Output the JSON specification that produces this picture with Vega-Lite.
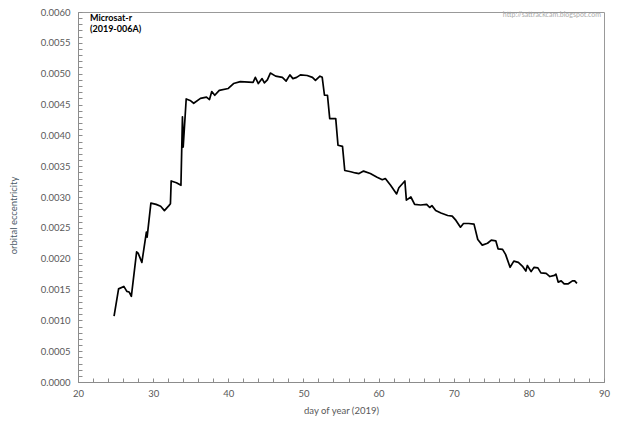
{
  "$schema": "https://vega.github.io/schema/vega-lite/v6.json",
  "autosize": {"type": "none"},
  "width": 526,
  "height": 370,
  "padding": {"left": 78, "top": 12, "right": 36, "bottom": 43},
  "data": {
    "values": [
      {"day": 24.8, "ecc": 0.00107},
      {"day": 25.4, "ecc": 0.00151},
      {"day": 26.1, "ecc": 0.00155},
      {"day": 26.5, "ecc": 0.00147},
      {"day": 26.8, "ecc": 0.00146},
      {"day": 27.1, "ecc": 0.00139},
      {"day": 27.8, "ecc": 0.00211},
      {"day": 28.0, "ecc": 0.00209},
      {"day": 28.5, "ecc": 0.00194},
      {"day": 29.1, "ecc": 0.00243},
      {"day": 29.2, "ecc": 0.00235},
      {"day": 29.7, "ecc": 0.00290},
      {"day": 30.4, "ecc": 0.00288},
      {"day": 31.0, "ecc": 0.00285},
      {"day": 31.5, "ecc": 0.00278},
      {"day": 32.1, "ecc": 0.00286},
      {"day": 32.3, "ecc": 0.00289},
      {"day": 32.4, "ecc": 0.00326},
      {"day": 33.1, "ecc": 0.00323},
      {"day": 33.7, "ecc": 0.00319},
      {"day": 33.9, "ecc": 0.00430},
      {"day": 34.0, "ecc": 0.00381},
      {"day": 34.4, "ecc": 0.00459},
      {"day": 35.0, "ecc": 0.00456},
      {"day": 35.4, "ecc": 0.00452},
      {"day": 36.3, "ecc": 0.00460},
      {"day": 37.1, "ecc": 0.00462},
      {"day": 37.5, "ecc": 0.00458},
      {"day": 37.8, "ecc": 0.00471},
      {"day": 38.2, "ecc": 0.00465},
      {"day": 38.8, "ecc": 0.00473},
      {"day": 40.0, "ecc": 0.00476},
      {"day": 40.7, "ecc": 0.00484},
      {"day": 41.6, "ecc": 0.00487},
      {"day": 43.3, "ecc": 0.00486},
      {"day": 43.6, "ecc": 0.00494},
      {"day": 44.0, "ecc": 0.00484},
      {"day": 44.5, "ecc": 0.00492},
      {"day": 44.8, "ecc": 0.00485},
      {"day": 45.2, "ecc": 0.00490},
      {"day": 45.6, "ecc": 0.00501},
      {"day": 46.3, "ecc": 0.00496},
      {"day": 47.2, "ecc": 0.00494},
      {"day": 47.7, "ecc": 0.00488},
      {"day": 48.2, "ecc": 0.00498},
      {"day": 48.6, "ecc": 0.00492},
      {"day": 49.1, "ecc": 0.00494},
      {"day": 49.6, "ecc": 0.00498},
      {"day": 50.5, "ecc": 0.00497},
      {"day": 51.2, "ecc": 0.00494},
      {"day": 51.6, "ecc": 0.00489},
      {"day": 52.2, "ecc": 0.00496},
      {"day": 52.5, "ecc": 0.00494},
      {"day": 52.8, "ecc": 0.00465},
      {"day": 53.2, "ecc": 0.00465},
      {"day": 53.5, "ecc": 0.00427},
      {"day": 54.3, "ecc": 0.00427},
      {"day": 54.6, "ecc": 0.00384},
      {"day": 55.2, "ecc": 0.00382},
      {"day": 55.5, "ecc": 0.00343},
      {"day": 56.3, "ecc": 0.00341},
      {"day": 56.9, "ecc": 0.00339},
      {"day": 57.4, "ecc": 0.00338},
      {"day": 58.0, "ecc": 0.00342},
      {"day": 58.9, "ecc": 0.00338},
      {"day": 59.8, "ecc": 0.00332},
      {"day": 60.5, "ecc": 0.00328},
      {"day": 60.9, "ecc": 0.00330},
      {"day": 61.6, "ecc": 0.00319},
      {"day": 62.4, "ecc": 0.00305},
      {"day": 62.7, "ecc": 0.00315},
      {"day": 63.5, "ecc": 0.00326},
      {"day": 63.7, "ecc": 0.00295},
      {"day": 64.3, "ecc": 0.00300},
      {"day": 64.8, "ecc": 0.00288},
      {"day": 65.6, "ecc": 0.00287},
      {"day": 66.4, "ecc": 0.00288},
      {"day": 66.8, "ecc": 0.00283},
      {"day": 67.1, "ecc": 0.00286},
      {"day": 67.6, "ecc": 0.00278},
      {"day": 68.3, "ecc": 0.00274},
      {"day": 69.2, "ecc": 0.00270},
      {"day": 69.8, "ecc": 0.00269},
      {"day": 70.3, "ecc": 0.00262},
      {"day": 70.9, "ecc": 0.00251},
      {"day": 71.3, "ecc": 0.00257},
      {"day": 72.0, "ecc": 0.00257},
      {"day": 72.7, "ecc": 0.00256},
      {"day": 73.2, "ecc": 0.00231},
      {"day": 73.8, "ecc": 0.00222},
      {"day": 74.5, "ecc": 0.00225},
      {"day": 75.0, "ecc": 0.00230},
      {"day": 75.6, "ecc": 0.00229},
      {"day": 75.9, "ecc": 0.00216},
      {"day": 76.5, "ecc": 0.00215},
      {"day": 76.9, "ecc": 0.00207},
      {"day": 77.5, "ecc": 0.00186},
      {"day": 78.0, "ecc": 0.00196},
      {"day": 78.6, "ecc": 0.00194},
      {"day": 79.2, "ecc": 0.00187},
      {"day": 79.6, "ecc": 0.00180},
      {"day": 79.8, "ecc": 0.00189},
      {"day": 80.3, "ecc": 0.00179},
      {"day": 80.7, "ecc": 0.00186},
      {"day": 81.2, "ecc": 0.00185},
      {"day": 81.6, "ecc": 0.00177},
      {"day": 82.3, "ecc": 0.00176},
      {"day": 82.8, "ecc": 0.00171},
      {"day": 83.4, "ecc": 0.00173},
      {"day": 83.6, "ecc": 0.00175},
      {"day": 83.9, "ecc": 0.00162},
      {"day": 84.3, "ecc": 0.00164},
      {"day": 84.7, "ecc": 0.00159},
      {"day": 85.2, "ecc": 0.00159},
      {"day": 85.8, "ecc": 0.00164},
      {"day": 86.1, "ecc": 0.00164},
      {"day": 86.4, "ecc": 0.00160}
    ]
  },
  "layer": [
    {
      "mark": {"type": "line", "color": "black", "strokeWidth": 1.7, "strokeJoin": "round"},
      "encoding": {
        "x": {
          "field": "day",
          "type": "quantitative",
          "scale": {"domain": [20, 90], "nice": false, "zero": false},
          "axis": {
            "title": "day of year (2019)",
            "values": [20, 22, 24, 26, 28, 30, 32, 34, 36, 38, 40, 42, 44, 46, 48, 50, 52, 54, 56, 58, 60, 62, 64, 66, 68, 70, 72, 74, 76, 78, 80, 82, 84, 86, 88, 90],
            "tickCount": 200,
            "labelExpr": "datum.value % 10 == 0 ? format(datum.value, 'd') : ''",
            "labelOverlap": false,
            "labelFlush": false,
            "tickSize": -4,
            "labelPadding": 10,
            "titlePadding": 8
          }
        },
        "y": {
          "field": "ecc",
          "type": "quantitative",
          "scale": {"domain": [0, 0.006], "nice": false},
          "axis": {
            "title": "orbital eccentricity",
            "values": [0, 0.0001, 0.0002, 0.0003, 0.0004, 0.0005, 0.0006, 0.0007, 0.0008, 0.0009, 0.001, 0.0011, 0.0012, 0.0013, 0.0014, 0.0015, 0.0016, 0.0017, 0.0018, 0.0019, 0.002, 0.0021, 0.0022, 0.0023, 0.0024, 0.0025, 0.0026, 0.0027, 0.0028, 0.0029, 0.003, 0.0031, 0.0032, 0.0033, 0.0034, 0.0035, 0.0036, 0.0037, 0.0038, 0.0039, 0.004, 0.0041, 0.0042, 0.0043, 0.0044, 0.0045, 0.0046, 0.0047, 0.0048, 0.0049, 0.005, 0.0051, 0.0052, 0.0053, 0.0054, 0.0055, 0.0056, 0.0057, 0.0058, 0.0059, 0.006],
            "tickCount": 200,
            "labelExpr": "round(datum.value * 10000) % 5 == 0 ? format(datum.value, '.4f') : ''",
            "labelOverlap": false,
            "labelFlush": false,
            "tickSize": -4,
            "labelPadding": 12,
            "titleX": -60,
            "titleY": 203,
            "titleColor": "#4a5966"
          }
        }
      }
    },
    {
      "data": {"values": [{}]},
      "mark": {"type": "text", "align": "left", "baseline": "top", "fontSize": 9, "fontWeight": "bold", "color": "black", "lineBreak": "\n", "lineHeight": 11},
      "encoding": {
        "x": {"datum": 21.6},
        "y": {"datum": 0.00597},
        "text": {"value": "Microsat-r\n(2019-006A)"}
      }
    },
    {
      "data": {"values": [{}]},
      "mark": {"type": "text", "align": "right", "baseline": "middle", "fontSize": 7, "color": "#aaaaaa"},
      "encoding": {
        "x": {"datum": 89.6},
        "y": {"datum": 0.00595},
        "text": {"value": "http://sattrackcam.blogspot.com"}
      }
    }
  ],
  "config": {
    "font": "Lato",
    "view": {"stroke": "#999999", "strokeWidth": 1},
    "axis": {
      "grid": false,
      "domainColor": "#8c8c8c",
      "tickColor": "#8c8c8c",
      "labelColor": "#595959",
      "labelFontSize": 9.5,
      "labelFont": "Lato",
      "titleFont": "Lato",
      "titleFontSize": 9.5,
      "titleFontWeight": "normal",
      "titleColor": "#595959"
    }
  }
}
